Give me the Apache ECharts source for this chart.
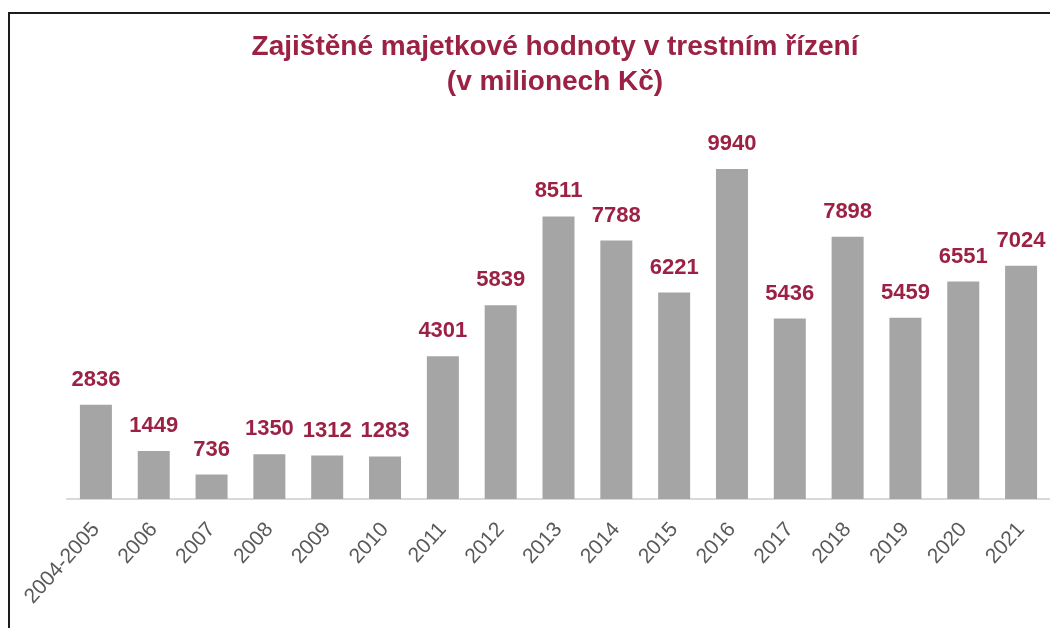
<!DOCTYPE html>
<html>
<head>
<meta charset="utf-8">
<script src="https://cdn.jsdelivr.net/npm/echarts@6/dist/echarts.min.js"></script>
<style>
  html, body { margin: 0; padding: 0; background: #fff; overflow: hidden; }
  #chart { position: absolute; left: 0; top: 0; width: 1050px; height: 628px; }
  .frame {
    position: absolute; left: 8px; top: 12px; right: 0; bottom: 0;
    border-left: 2px solid #1c1c1c; border-top: 2px solid #1c1c1c;
    pointer-events: none;
  }
</style>
</head>
<body>
<div id="chart"></div>
<div class="frame"></div>
<script>
const years = ['2004-2005', '2006', '2007', '2008', '2009', '2010', '2011', '2012',
  '2013', '2014', '2015', '2016', '2017', '2018', '2019', '2020', '2021']
const values = [2836, 1449, 736, 1350, 1312, 1283, 4301, 5839,
  8511, 7788, 6221, 9940, 5436, 7898, 5459, 6551, 7024]

const red = '#9b2145'
const chart = echarts.init(document.getElementById('chart'))

chart.setOption({
  animation: false,
  title: {
    text: 'Zajištěné majetkové hodnoty v trestním řízení\n(v milionech Kč)',
    left: 550,
    top: 25,
    textAlign: 'center',
    textStyle: {
      color: red,
      fontFamily: 'Liberation Sans, Arial, sans-serif',
      fontSize: 28,
      fontWeight: 'bold',
      lineHeight: 35
    }
  },
  grid: {
    left: 67,
    right: -7,
    top: 167,
    bottom: 129,
    containLabel: false
  },
  xAxis: {
    type: 'category',
    data: years,
    axisLine: { lineStyle: { color: '#d9d9d9', width: 2 } },
    axisTick: { show: false },
    axisLabel: {
      rotate: 48,
      interval: 0,
      margin: 27,
      color: '#595959',
      fontSize: 21,
      fontFamily: 'Liberation Sans, Arial, sans-serif'
    }
  },
  yAxis: {
    type: 'value',
    min: 0,
    max: 10000,
    show: false,
    splitLine: { show: false }
  },
  series: [{
    type: 'bar',
    data: values,
    barWidth: 32,
    itemStyle: { color: '#a5a5a5' },
    label: {
      show: true,
      position: 'top',
      distance: 14,
      color: red,
      fontSize: 22,
      fontWeight: 'bold',
      fontFamily: 'Liberation Sans, Arial, sans-serif'
    }
  }]
})
</script>
</body>
</html>
